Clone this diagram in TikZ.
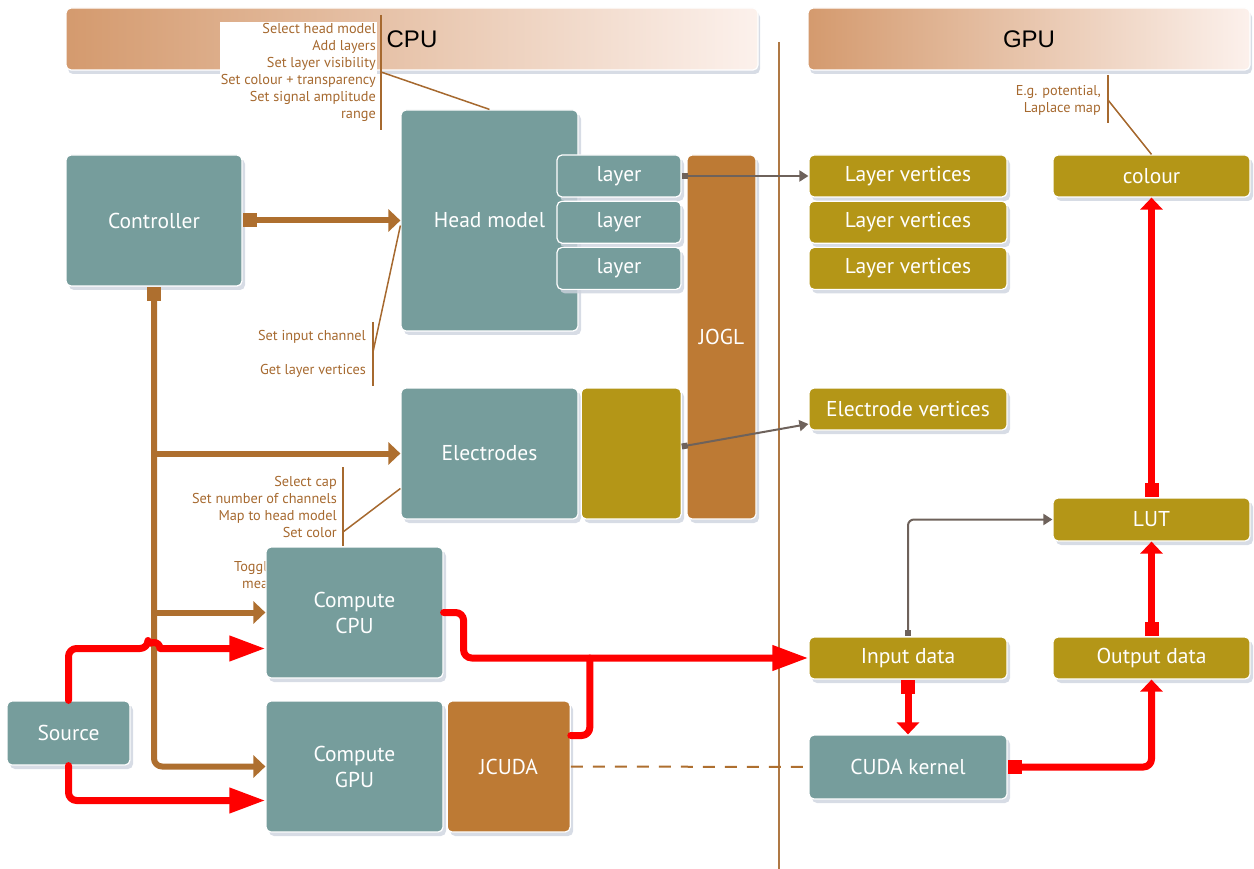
\documentclass[tikz,border=0pt]{standalone}
\usepackage{fontspec}
\setmainfont{PT Sans}
\newfontfamily\hdrfont{Liberation Sans}
\usetikzlibrary{arrows.meta,positioning,shadows,calc}
\definecolor{slatebox}{HTML}{769D9C}
\definecolor{ochre}{HTML}{B49617}
\definecolor{rust}{HTML}{BD7A34}
\definecolor{wire}{HTML}{AE6F2F}
\definecolor{notec}{HTML}{A6692F}
\definecolor{ash}{HTML}{6E625B}
\definecolor{halo}{HTML}{CDD3DE}
\definecolor{tanA}{HTML}{D49A6E}
\definecolor{tanB}{HTML}{FCF1EC}
\tikzset{
  box/.style={rectangle, rounded corners=5pt, draw=white, line width=1.2pt, text=white, align=center,
              font=\fontsize{21.5}{26}\selectfont, inner sep=2pt,
              drop shadow={shadow xshift=3pt, shadow yshift=-4pt, fill=halo, opacity=0.8}},
  cpubox/.style={box, fill=slatebox},
  gpubox/.style={box, fill=ochre},
  libbox/.style={box, fill=rust},
  hdr/.style={rectangle, rounded corners=5pt, left color=tanA, right color=tanB, draw=white, line width=1.2pt,
              font=\hdrfont\fontsize{24}{28}\selectfont, text=black,
              drop shadow={shadow xshift=2pt, shadow yshift=-4pt, fill=halo, opacity=0.8}},
  note/.style={font=\fontsize{14.3}{17}\selectfont, text=notec, align=right, inner sep=1pt},
  callout/.style={draw=notec, line width=1.5pt},
  divider/.style={draw=notec!90, line width=1.5pt},
  ctl/.style={draw=wire, line width=6pt, line join=round, rounded corners=8pt, -{Triangle[length=12pt,width=22pt]}},
  ctlsq/.style={ctl, {Square[length=14pt,width=14pt]}-{Triangle[length=12pt,width=22pt]}},
  sig/.style={draw=red, line width=7pt, line cap=round, line join=round, rounded corners=8pt,
              -{Triangle[length=36pt,width=24pt]}},
  sigline/.style={draw=red, line width=7pt, line cap=round, line join=round, rounded corners=8pt},
  sigsq/.style={draw=red, line width=7pt, line join=round, rounded corners=8pt,
                {Square[length=14pt,width=14pt]}-{Triangle[length=12pt,width=22pt]}},
  vtx/.style={draw=ash, line width=2pt, rounded corners=6pt,
              {Square[length=6pt,width=6pt]}-{Triangle[length=9pt,width=11pt]}},
  cudalink/.style={draw=wire, line width=2pt, dash pattern=on 12pt off 10pt}
}
\begin{document}
\begin{tikzpicture}[x=1pt, y=-1pt, node distance=3pt]
  \useasboundingbox (0,0) rectangle (1254,869);

  % headers and divider
  \node[hdr, minimum width=692pt, minimum height=62pt] (cpuhdr) at (412,39) {CPU};
  \node[hdr, minimum width=442pt, minimum height=62pt] (gpuhdr) at (1029,39) {GPU};
  \coordinate (divtop) at (779,42);
  \coordinate (divbot) at (779,869);
  \draw[divider] (divtop) -- (divbot);

  % notes
  \node[note, fill=white, anchor=north east] (headnote) at (377,22)
    {Select head model\\Add layers\\Set layer visibility\\Set colour + transparency\\Set signal amplitude\\range};
  \node[note, anchor=east] (layernote) at (367,354) {Set input channel\\[17pt]Get layer vertices};
  \node[note, anchor=north east] (elecnote) at (338,475)
    {Select cap\\Set number of channels\\Map to head model\\Set color};
  \node[note, align=left, anchor=north west] (togglenote) at (233,560) {Toggl\\\hspace*{8pt}mea};
  \node[note, anchor=north east] (colournote) at (1102,84) {E.g. potential,\\Laplace map};

  \coordinate (hbarT) at (381,15);
  \coordinate (hbarB) at (381,130);
  \coordinate (hknee) at (381,72);
  \coordinate (lbarT) at (373,322);
  \coordinate (lbarB) at (373,386);
  \coordinate (lknee) at (373,352);
  \coordinate (ebarT) at (343,467);
  \coordinate (ebarB) at (343,546);
  \coordinate (eknee) at (343,532);
  \coordinate (cbarT) at (1108,75);
  \coordinate (cbarB) at (1108,123);
  \coordinate (cknee) at (1108,100);

  % CPU side
  \node[cpubox, minimum width=176pt, minimum height=131pt] (ctrl) at (154,220.5) {Controller};
  \node[cpubox, minimum width=177pt, minimum height=221pt] (head) at (489.5,220.5) {Head model};
  \node[cpubox, minimum width=124pt, minimum height=42pt] (layerA) at (619,176) {layer};
  \node[cpubox, minimum width=124pt, minimum height=42pt, below=3pt of layerA] (layerB) {layer};
  \node[cpubox, minimum width=124pt, minimum height=42pt, below=3pt of layerB] (layerC) {layer};
  \node[libbox, minimum width=69pt, minimum height=364pt] (jogl) at (721.5,337) {JOGL};
  \node[cpubox, minimum width=177pt, minimum height=131pt] (elec) at (489.5,453.5) {Electrodes};
  \node[gpubox, minimum width=100pt, minimum height=131pt, right=2pt of elec] (elecbuf) {};
  \node[cpubox, minimum width=177pt, minimum height=131pt] (ccpu) at (354.5,612.5) {Compute\\CPU};
  \node[cpubox, minimum width=177pt, minimum height=131pt] (cgpu) at (354.5,766.5) {Compute\\GPU};
  \node[libbox, minimum width=123pt, minimum height=131pt, right=3pt of cgpu] (jcuda) {JCUDA};
  \node[cpubox, minimum width=123pt, minimum height=64pt] (source) at (68.5,733) {Source};

  % GPU side
  \node[gpubox, minimum width=198pt, minimum height=42pt] (lvA) at (908,176) {Layer vertices};
  \node[gpubox, minimum width=198pt, minimum height=42pt, below=3pt of lvA] (lvB) {Layer vertices};
  \node[gpubox, minimum width=198pt, minimum height=42pt, below=3pt of lvB] (lvC) {Layer vertices};
  \node[gpubox, minimum width=198pt, minimum height=42pt] (ev) at (908,409) {Electrode vertices};
  \node[gpubox, minimum width=197pt, minimum height=42pt] (colour) at (1151.5,176) {colour};
  \node[gpubox, minimum width=197pt, minimum height=43pt] (lut) at (1151.5,519.5) {LUT};
  \node[gpubox, minimum width=198pt, minimum height=42pt] (indata) at (908,658) {Input data};
  \node[gpubox, minimum width=197pt, minimum height=42pt] (outdata) at (1151.5,658) {Output data};
  \node[cpubox, minimum width=198pt, minimum height=64pt] (kernel) at (908,767) {CUDA kernel};

  % callouts
  \draw[callout] (hbarT) -- (hbarB);
  \draw[callout] (hknee) -- (head.north);
  \draw[callout] (lbarT) -- (lbarB);
  \draw[callout] (lknee) -- ([yshift=-5pt]head.west);
  \draw[callout] (ebarT) -- (ebarB);
  \draw[callout] (eknee) -- ([yshift=-35pt]elec.west);
  \draw[callout] (cbarT) -- (cbarB);
  \draw[callout] (cknee) -- (colour.north);

  % control flow
  \draw[ctlsq] (ctrl.east) -- (head.west);
  \draw[ctlsq] (ctrl.south) |- (cgpu.west);
  \draw[ctl] (ctrl.south |- elec.west) -- (elec.west);
  \draw[ctl] (ctrl.south |- ccpu.west) -- (ccpu.west);

  % vertex uploads
  \draw[vtx] (layerA.east) -- (lvA.west);
  \draw[vtx] ([yshift=7pt]elecbuf.east) -- ([yshift=-15pt]ev.west);
  \draw[vtx] (indata.north) |- (lut.west);
  \draw[cudalink] (jcuda.east) -- (kernel.west);

  % signal path
  \coordinate (cpuin) at ([yshift=-36pt]ccpu.west);
  \coordinate (gpuin) at ([yshift=-34pt]cgpu.west);
  \coordinate (hopL) at ($(ctrl.south |- cpuin)+(-6,0)$);
  \draw[sig] (source.north) |- (hopL) [sharp corners] arc[start angle=180, end angle=360, radius=6] -- (cpuin);
  \draw[sig] (source.south) |- (gpuin);
  \draw[sig] (ccpu.east) -- ++(20,0) |- (indata.west);
  \coordinate (jcudaout) at ([yshift=31pt]jcuda.east);
  \path (jcudaout) -- ++(19,0) coordinate (jbend);
  \coordinate (join) at (jbend |- indata.west);
  \draw[sigline] (jcudaout) -- (jbend) -- (join);
  \draw[sigsq] (indata.south) -- (kernel.north);
  \draw[sigsq] (kernel.east) -| (outdata.south);
  \draw[sigsq] (outdata.north) -- (lut.south);
  \draw[sigsq] (lut.north) -- (colour.south);
\end{tikzpicture}
\end{document}
